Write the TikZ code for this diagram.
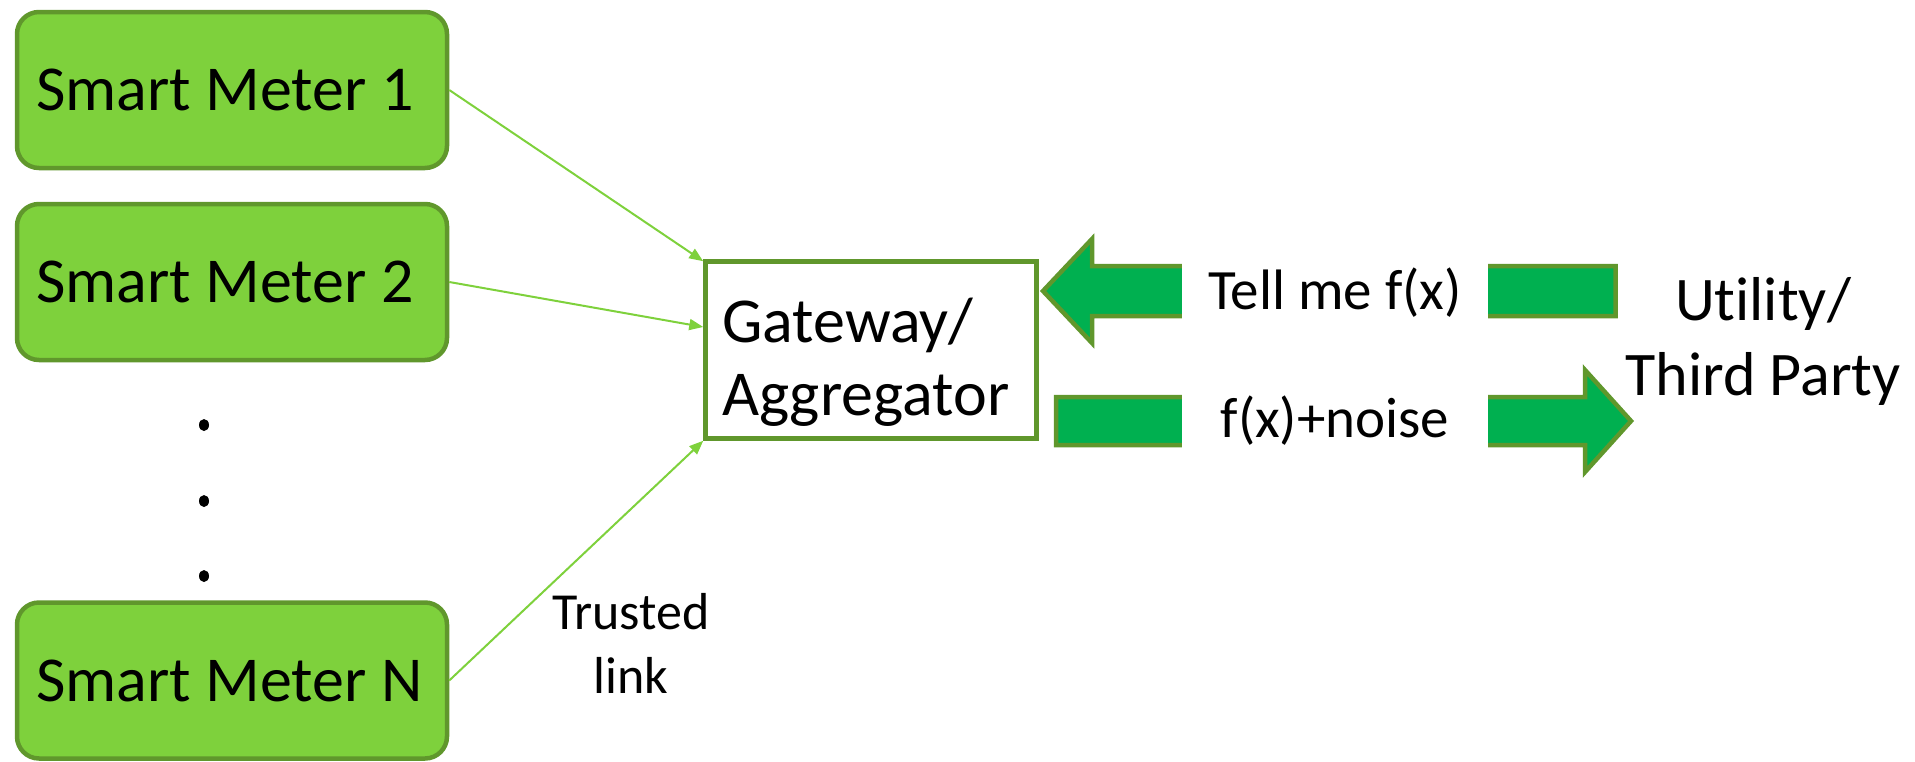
\documentclass[tikz,border=0pt]{standalone}
\usepackage{fontspec}
\setmainfont{Carlito}[Ligatures=NoCommon]
\usetikzlibrary{arrows.meta,calc}
\definecolor{meterfill}{RGB}{126,209,60}
\definecolor{darkborder}{RGB}{96,151,44}
\definecolor{blockgreen}{RGB}{0,176,80}
\begin{document}
\begin{tikzpicture}[x=1pt,y=-1pt,
  meter/.style={draw=darkborder, fill=meterfill, line width=4.5pt, rounded corners=22pt,
    minimum width=430pt, minimum height=156pt, inner xsep=19pt, inner ysep=0pt,
    text width=392pt, align=flush left, font=\fontsize{64}{76}\selectfont},
  gwbox/.style={draw=darkborder, fill=white, line width=4.5pt, minimum width=331pt,
    minimum height=177pt, inner sep=0pt},
  conn/.style={draw=meterfill, line width=2pt, -{Triangle[length=14pt,width=11pt]}},
  cover/.style={fill=white, inner sep=0pt, minimum width=306pt, minimum height=90pt,
    font=\fontsize{57}{68}\selectfont},
  blockarrow/.style={fill=blockgreen, draw=darkborder, line width=4.5pt, line join=miter},
  dotmark/.style={fill=black}
]
\useasboundingbox (0,0) rectangle (1915,761);

% smart meters
\node[meter] (m1) at (232,90) {Smart Meter 1};
\node[meter] (m2) at (232,282) {Smart Meter 2};
\node[meter] (mn) at (232,680.5) {Smart Meter N};

% dots
\fill[dotmark] (204,425) ellipse (5pt and 6pt);
\fill[dotmark] (204,501) ellipse (5pt and 6pt);
\fill[dotmark] (204,576) ellipse (5pt and 6pt);

% gateway
\node[gwbox] (gw) at (871,350) {};
\node[anchor=west, align=left, inner sep=0pt, font=\fontsize{64}{73}\selectfont] (gwtext) at (722,362) {Gateway/\\Aggregator};

% connectors
\draw[conn] (m1.east) -- ([yshift=-2pt]gw.north west);
\draw[conn] (m2.east) -- ([yshift=23pt]gw.west);
\draw[conn] (mn.east) -- (gw.south west);

\node[align=center, inner sep=0pt, font=\fontsize{52}{64}\selectfont] (trusted) at (631,643) {Trusted\\link};

% request arrow (utility -> gateway)
\draw[blockarrow] (1615.7,266) -- (1092,266) -- (1092,239) -- (1043,291) -- (1092,343) -- (1092,316) -- (1615.7,316) -- cycle;
\node[cover, anchor=base] (ask) at (1335,309) {Tell me f(x)};

% answer arrow (gateway -> utility)
\draw[blockarrow] (1056,397) -- (1585,397) -- (1585,370) -- (1631,421) -- (1585,472) -- (1585,445) -- (1056,445) -- cycle;
\node[cover, anchor=base] (answer) at (1335,437) {f(x)+noise};

% utility
\node[align=center, inner sep=0pt, font=\fontsize{62}{75}\selectfont] (util) at (1763,341) {Utility/\\Third Party};
\end{tikzpicture}
\end{document}
